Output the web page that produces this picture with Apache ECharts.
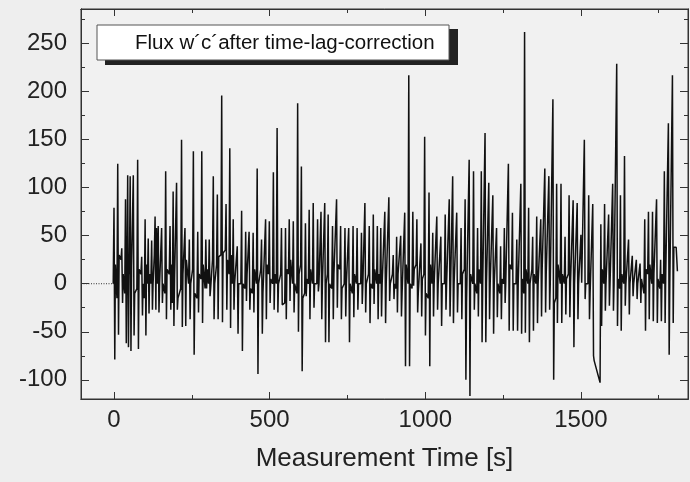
<!DOCTYPE html>
<html>
<head>
<meta charset="utf-8">
<script src="https://cdn.jsdelivr.net/npm/echarts@6/dist/echarts.min.js"></script>
<style>html,body{margin:0;padding:0;background:#eeeeee;}#c{width:690px;height:482px;}</style>
</head>
<body>
<div id="c"></div>
<script>
// ---- data ----
var spikeTimes = [
  0,12,25,37,44,52,62,76,89,100,
  110,121,132,142,153,166,180,190,201,217,
  228,242,255,269,282,295,306,319,332,346,
  360,372,383,396,410,423,434,447,460,474,
  487,499,512,524,538,551,563,576,590,602,
  615,627,640,654,665,677,688,702,715,728,
  742,754,768,781,795,806,820,833,846,857,
  870,883,897,908,921,934,947,960,973,986,
  998,1012,1024,1037,1050,1064,1077,1088,1101,1115,
  1128,1141,1155,1168,1180,1192,1204,1217,1229,1242,
  1254,1267,1280,1294,1307,1319,1332,1345,1358,1371,
  1384,1397,1410,1422,1436,1449,1462,1475,1488,1500,
  1511,1525,1538,1564,1576,1589,1602,1615,1627,1640,
  1653,1665,1678,1690,1705,1717,1730,1743,1756,1768,
  1781,1794];
var spikeHigh = [
  79,125,37,88,113,112,113,129,28,67,
  47,45,70,60,58,117,60,96,105,150,
  58,46,138,54,138,46,46,112,93,196,
  83,141,67,39,76,54,54,53,120,46,
  67,65,116,162,58,58,67,65,188,122,
  63,77,84,67,75,84,72,60,88,60,
  58,58,60,58,53,84,60,72,60,58,
  75,90,30,49,50,74,217,75,67,42,
  153,95,53,70,49,72,88,112,74,58,
  88,129,117,58,117,157,105,92,58,39,
  58,125,74,46,104,262,79,49,70,67,
  120,112,192,104,104,49,92,87,84,51,
  150,92,83,62,83,72,104,229,92,133,
  46,29,25,21,67,75,75,88,25,117,
  167,217];
var spikeLow = [
  -79,-53,-20,-62,-66,-70,-54,-68,-33,-54,
  -31,-27,-27,-30,-20,-37,-27,-44,-27,-45,
  -44,-37,-74,-30,-41,-5,-13,-37,-37,-40,
  -27,-46,-27,-52,-70,-18,-27,-30,-94,-52,
  -37,-20,-27,-30,-22,-37,-18,-30,-50,-91,
  -13,-37,-25,-8,-37,-61,-61,-37,-25,-37,
  -34,-61,-35,-27,-21,-30,-41,-21,-37,-34,
  -41,-18,-16,-30,-34,-86,-86,-2,-30,-34,
  -54,-86,-34,-27,-44,-27,-34,-41,-30,-37,
  -100,-117,-27,-34,-61,-61,-37,-52,-35,-37,
  -20,-49,-49,-49,-52,-51,-61,-49,-41,-34,
  -30,-27,-100,-41,-41,-32,-35,-66,-37,1,
  -16,-37,-75,-44,-28,-23,-28,-44,-49,-23,
  -32,-13,-16,-20,-49,-37,-39,-41,-39,-41,
  -74,-41];
var spikeBefore = [
  0,-15,25,-10,5,10,20,-5,10,-15,
  0,0,30,0,0,-10,10,-20,5,-5,
  10,0,15,-15,5,-5,0,25,20,30,
  35,10,0,0,0,-5,10,-10,0,15,
  -10,10,0,0,10,-20,10,0,-10,20,
  -10,0,0,0,0,0,10,-5,10,15,
  0,0,-10,0,0,0,10,-5,0,0,
  0,0,10,-5,10,-10,0,-5,20,-10,
  10,-15,0,0,0,0,0,0,0,0,
  15,-20,0,-10,0,0,0,0,0,-10,
  0,0,15,0,0,-10,0,15,0,0,
  15,10,0,-15,0,0,10,0,0,0,
  0,0,-10,-103,0,0,0,0,-5,0,
  0,0,0,0,-10,10,0,10,-5,0,
  10,0];
var spikeAfter = [
  20,30,10,15,20,18,-10,15,0,20,
  10,0,58,0,0,15,20,5,-15,10,
  25,0,-10,10,20,15,-5,0,28,32,
  25,30,0,0,0,10,-5,15,0,-10,
  20,5,10,0,-20,15,25,0,10,-15,
  5,15,0,0,0,0,0,10,20,-5,
  0,0,10,0,0,0,0,15,10,0,
  0,0,0,10,-10,20,0,15,-10,5,
  -10,20,0,0,0,0,0,0,0,10,
  -20,10,0,15,0,0,0,0,0,5,
  0,20,0,0,5,15,0,10,0,15,
  10,0,-20,20,10,5,0,0,0,0,
  0,-10,-80,15,0,0,0,5,10,0,
  0,0,0,5,15,20,10,5,10,10,
  0,38];
var tailTimes = [1806, 1810];
var tailValues = [38, 13];
var leadTimes = [-106, 0];
var leadValues = [0, 0];
var xMajorTicks = [0, 500, 1000, 1500];
var xMinorTicks = [250, 750, 1250, 1750];
var yMajorTicks = [-100, -50, 0, 50, 100, 150, 200, 250];
var yMinorTicks = [-75, -25, 25, 75, 125, 175, 225, 275];
var legendText = 'Flux w\u00b4c\u00b4after time-lag-correction';
var xTitle = 'Measurement Time [s]';

// ---- build series data (each spike: before, high, low, after) ----
var lineData = [];
for (var i = 0; i < spikeTimes.length; i++) {
  lineData.push([spikeTimes[i] - 2.5, spikeBefore[i]]);
  lineData.push([spikeTimes[i], spikeHigh[i]]);
  lineData.push([spikeTimes[i] + 2.5, spikeLow[i]]);
  lineData.push([spikeTimes[i] + 4.5, spikeAfter[i]]);
}
for (var j = 0; j < tailTimes.length; j++) lineData.push([tailTimes[j], tailValues[j]]);
var leadData = leadTimes.map(function (t, k) { return [t, leadValues[k]]; });

var XMIN = -106, XMAX = 1844, YMIN = -120, YMAX = 286;
var FONT = '"Liberation Sans", Arial, sans-serif';
var axisCol = '#333';
function plain(v) { return String(v); }

function xAx(pos, ticks, len, labels, extra) {
  var a = {
    type: 'value', min: XMIN, max: XMAX, position: pos, gridIndex: 0,
    axisLine: { show: true, onZero: false, lineStyle: { color: axisCol, width: 1 } },
    axisTick: { show: true, inside: true, length: len, customValues: ticks, lineStyle: { color: axisCol } },
    axisLabel: labels ? { show: true, customValues: labels, formatter: plain, fontSize: 24, color: '#222', fontFamily: FONT, margin: 9 } : { show: false },
    splitLine: { show: false }
  };
  for (var k in extra) a[k] = extra[k];
  return a;
}
function yAx(pos, ticks, len, labels) {
  return {
    type: 'value', min: YMIN, max: YMAX, position: pos, gridIndex: 0,
    axisLine: { show: true, onZero: false, lineStyle: { color: axisCol, width: 1 } },
    axisTick: { show: true, inside: true, length: len, customValues: ticks, lineStyle: { color: axisCol } },
    axisLabel: labels ? { show: true, customValues: labels, formatter: plain, fontSize: 24, color: '#222', fontFamily: FONT, margin: 14 } : { show: false },
    splitLine: { show: false }
  };
}

var chart = echarts.init(document.getElementById('c'), null, { renderer: 'canvas' });
chart.setOption({
  animation: false,
  backgroundColor: '#eeeeee',
  grid: { left: 81, right: 2, top: 9, bottom: 83, show: true, borderColor: axisCol, borderWidth: 1, backgroundColor: '#f1f1f1' },
  xAxis: [
    xAx('bottom', xMajorTicks, 7, xMajorTicks, {
      name: xTitle, nameLocation: 'middle', nameGap: 47,
      nameTextStyle: { fontSize: 26, color: '#222', fontFamily: FONT }
    }),
    xAx('bottom', xMinorTicks, 4, null, {}),
    xAx('top', xMajorTicks, 7, null, {}),
    xAx('top', xMinorTicks, 4, null, {})
  ],
  yAxis: [
    yAx('left', yMajorTicks, 8, yMajorTicks),
    yAx('left', yMinorTicks, 4, null),
    yAx('right', yMajorTicks, 8, null),
    yAx('right', yMinorTicks, 4, null)
  ],
  graphic: [
    { type: 'rect', shape: { x: 105, y: 29, width: 353, height: 36 }, style: { fill: '#222' }, z: 10 },
    { type: 'rect', shape: { x: 97, y: 25, width: 352, height: 35 }, style: { fill: '#ffffff', stroke: '#555', lineWidth: 1 }, z: 11 },
    { type: 'text', x: 135, y: 43, style: { text: legendText, fontSize: 20.5, fontFamily: FONT, fill: '#111', verticalAlign: 'middle' }, z: 12 }
  ],
  series: [
    {
      type: 'line', xAxisIndex: 0, yAxisIndex: 0, data: leadData, showSymbol: false, symbol: 'none',
      lineStyle: { color: '#333', width: 1, type: [1, 1.5] }, z: 3
    },
    {
      type: 'line', xAxisIndex: 0, yAxisIndex: 0, data: lineData, showSymbol: false, symbol: 'none',
      lineStyle: { color: '#111', width: 1.5 }, clip: true, z: 4
    }
  ]
});
</script>
</body>
</html>
